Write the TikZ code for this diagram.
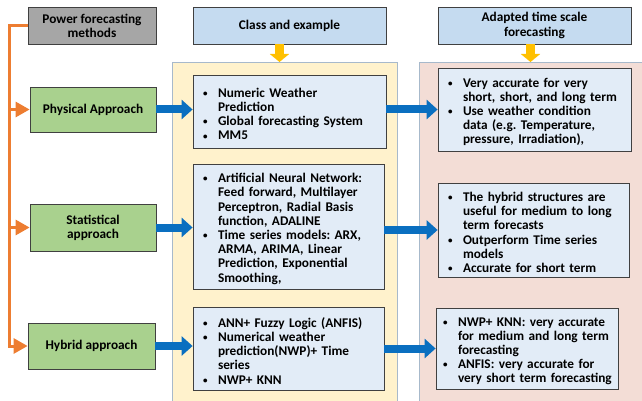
\documentclass[tikz,border=0pt]{standalone}
\usepackage{fontspec}
\setmainfont{Carlito}
\usetikzlibrary{arrows.meta}
\definecolor{hdgray}{HTML}{A6A6A6}
\definecolor{hdblue}{HTML}{C5DBF0}
\definecolor{boxblue}{HTML}{E2ECF7}
\definecolor{apgreen}{HTML}{A9D18E}
\definecolor{panyel}{HTML}{FFF2CC}
\definecolor{panpink}{HTML}{F3DDD6}
\definecolor{panedge}{HTML}{A7B9CB}
\definecolor{orline}{HTML}{ED7D31}
\definecolor{arblue}{HTML}{0A6FC0}
\definecolor{aryel}{HTML}{FFC000}
\frenchspacing
\newcommand{\itm}{\par\hyphenpenalty=10000\relax\noindent\hangindent=19pt\hangafter=1\makebox[19pt][l]{\hspace{4pt}\raisebox{0.8pt}{\fontsize{9}{9}\selectfont\textbullet}}}
\tikzset{
  hdbox/.style={draw=black!75, line width=0.8pt, inner sep=0pt, align=center, font=\fontsize{13.3}{14.2}\selectfont\bfseries},
  apbox/.style={hdbox, fill=apgreen},
  listbox/.style={draw=black!75, line width=0.8pt, fill=boxblue, inner xsep=6pt, inner ysep=0pt, align=left, font=\fontsize{13.3}{14.2}\selectfont\bfseries},
  panel/.style={draw=panedge, line width=0.8pt, anchor=north west, inner sep=0pt},
  bluearr/.style={draw=arblue, line width=8pt, -{Triangle[length=11pt,width=19pt]}},
  yelarr/.style={draw=aryel, line width=9pt, -{Triangle[length=8pt,width=19pt]}},
  orarr/.style={draw=orline, line width=3pt, line join=miter, -{Triangle[length=14pt,width=15pt]}}
}
\begin{document}
\begin{tikzpicture}[x=1pt, y=-1pt]
    \useasboundingbox (0,0) rectangle (642,401);

    % background panels
    \node[panel, fill=panyel, minimum width=225pt, minimum height=350pt] (panL) at (172,62) {};
    \node[panel, fill=panpink, minimum width=230pt, minimum height=350pt] (panR) at (419,62) {};

    % headers
    \node[hdbox, fill=hdgray, minimum width=128pt, minimum height=37pt] (pfm) at (92,25.5) {Power forecasting\\methods};
    \node[hdbox, fill=hdblue, minimum width=193pt, minimum height=37pt] (hcls) at (289.5,25.5) {Class and example};
    \node[hdbox, fill=hdblue, minimum width=193pt, minimum height=37pt] (htsf) at (534.5,25.5) {Adapted time scale\\forecasting};

    % approaches
    \node[apbox, minimum width=126pt, minimum height=45pt] (phys) at (93,109.5) {Physical Approach};
    \node[apbox, minimum width=126pt, minimum height=47pt] (stat) at (93,227.5) {Statistical\\approach};
    \node[apbox, minimum width=127pt, minimum height=46pt] (hyb) at (91.5,346) {Hybrid approach};

    % class and example
    \node[listbox, text width=181pt, minimum height=73pt] (cls1) at (289.5,111.5) {%
      \itm Numeric Weather\newline Prediction
      \itm Global forecasting System
      \itm MM5\par};
    \node[listbox, text width=179pt, minimum height=125pt] (cls2) at (288.5,226.5) {%
      \itm Artificial Neural Network:\newline Feed forward, Multilayer\newline Perceptron, Radial Basis\newline function, ADALINE
      \itm Time series models: ARX,\newline ARMA, ARIMA, Linear\newline Prediction, Exponential\newline Smoothing,\par};
    \node[listbox, text width=179pt, minimum height=83pt] (cls3) at (288.5,348.5) {%
      \itm ANN+ Fuzzy Logic (ANFIS)
      \itm Numerical weather\newline prediction(NWP)+ Time\newline series
      \itm NWP+ KNN\par};

    % adapted time scale
    \node[listbox, text width=181pt, minimum height=83pt] (tsf1) at (534.5,109.5) {%
      \itm Very accurate for very\newline short, short, and long term
      \itm Use weather condition\newline data (e.g. Temperature,\newline pressure, Irradiation),\par};
    \node[listbox, text width=179pt, minimum height=94pt] (tsf2) at (533.5,230) {%
      \itm The hybrid structures are\newline useful for medium to long\newline term forecasts
      \itm Outperform Time series\newline models
      \itm Accurate for short term\par};
    \node[listbox, inner xsep=3pt, text width=176pt, minimum height=81pt] (tsf3) at (527,348.5) {%
      \itm NWP+ KNN: very accurate\newline for medium and long term\newline forecasting
      \itm ANFIS: very accurate for\newline very short term forecasting\par};

    % yellow arrows
    \draw[yelarr] ([xshift=-10pt]hcls.south) -- ([xshift=-10pt]hcls.south |- panL.north);
    \draw[yelarr] ([xshift=-4pt]htsf.south) -- ([xshift=-4pt]htsf.south |- panR.north);

    % orange tree
    \coordinate (spine) at (9,0);
    \draw[orarr] (pfm.west) -- (pfm.west -| spine) |- (hyb.west);
    \draw[orarr] (phys.west -| spine) -- (phys.west);
    \draw[orarr] (stat.west -| spine) -- (stat.west);

    % blue arrows
    \draw[bluearr] (phys.east) -- (phys.east -| cls1.west);
    \draw[bluearr] (stat.east) -- (stat.east -| cls2.west);
    \draw[bluearr] (hyb.east) -- (hyb.east -| cls3.west);
    \draw[bluearr] (tsf1.west -| cls1.east) -- (tsf1.west);
    \draw[bluearr] (tsf2.west -| cls2.east) -- (tsf2.west);
    \draw[bluearr] (tsf3.west -| cls3.east) -- (tsf3.west);
\end{tikzpicture}
\end{document}
